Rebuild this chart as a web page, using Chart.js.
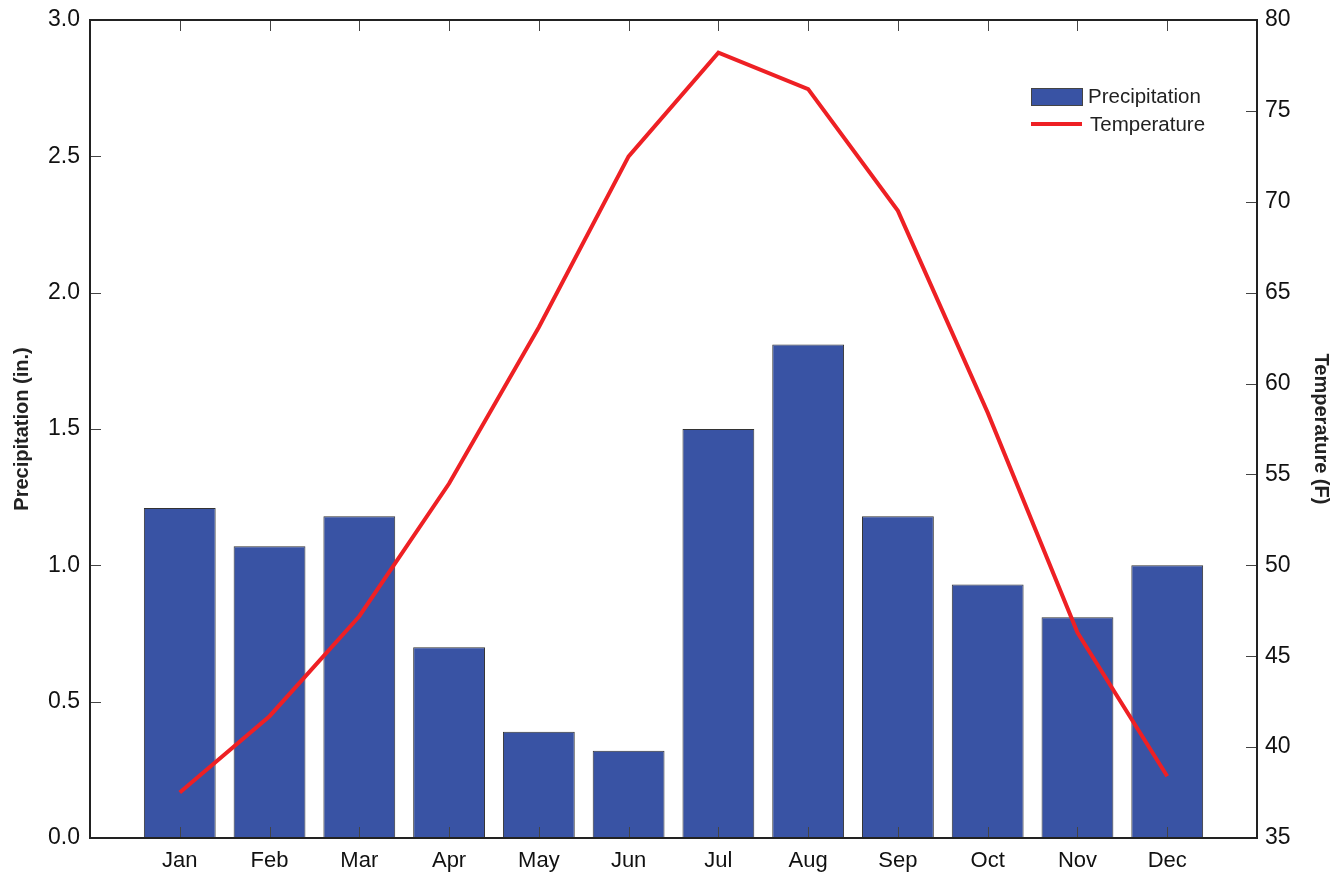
<!DOCTYPE html>
<html>
<head>
<meta charset="utf-8">
<script src="https://cdn.jsdelivr.net/npm/chart.js@4"></script>
<style>
  html, body { margin: 0; padding: 0; background: #fff; }
  #wrap { width: 1343px; height: 875px; }
</style>
</head>
<body>
<div id="wrap"><canvas id="climateChart" width="1343" height="875"></canvas></div>
<script>
const months = ['Jan', 'Feb', 'Mar', 'Apr', 'May', 'Jun', 'Jul', 'Aug', 'Sep', 'Oct', 'Nov', 'Dec'];
const precipitation = [1.21, 1.07, 1.18, 0.70, 0.39, 0.32, 1.50, 1.81, 1.18, 0.93, 0.81, 1.00];
const temperature = [37.5, 41.7, 47.2, 54.5, 63.1, 72.5, 78.2, 76.2, 69.5, 58.4, 46.3, 38.4];
const precipTicks = [0, 0.5, 1.0, 1.5, 2.0, 2.5, 3.0];
const tempTicks = [35, 40, 45, 50, 55, 60, 65, 70, 75, 80];

const fontFamily = '"Liberation Sans", Arial, Helvetica, sans-serif';
const barColor = '#3953a4';
const lineColor = '#ee2024';

// frame, inward tick marks and the legend box
const framePlugin = {
    id: 'frame',
    afterDraw(chart) {
        const ctx = chart.ctx;
        const a = chart.chartArea;
        const x = chart.scales.x, yl = chart.scales.y, yr = chart.scales.y2;
        const tl = 11;
        ctx.save();
        ctx.strokeStyle = '#444';
        ctx.lineWidth = 1;
        ctx.beginPath();
        months.forEach((m, i) => {
            const px = Math.round(x.getPixelForValue(i + 1)) + 0.5;
            ctx.moveTo(px, a.bottom); ctx.lineTo(px, a.bottom - tl);
            ctx.moveTo(px, a.top); ctx.lineTo(px, a.top + tl);
        });
        precipTicks.forEach(v => {
            const py = Math.round(yl.getPixelForValue(v)) + 0.5;
            ctx.moveTo(a.left, py); ctx.lineTo(a.left + tl, py);
        });
        tempTicks.forEach(v => {
            const py = Math.round(yr.getPixelForValue(v)) + 0.5;
            ctx.moveTo(a.right, py); ctx.lineTo(a.right - tl, py);
        });
        ctx.stroke();

        ctx.strokeStyle = '#222';
        ctx.lineWidth = 2;
        ctx.strokeRect(a.left, a.top, a.right - a.left, a.bottom - a.top);

        // legend
        const lx = a.right - 226, ly = a.top + 68;
        ctx.fillStyle = barColor;
        ctx.fillRect(lx, ly, 51, 17);
        ctx.strokeStyle = '#444';
        ctx.lineWidth = 1;
        ctx.strokeRect(lx + 0.5, ly + 0.5, 51, 17);
        ctx.strokeStyle = lineColor;
        ctx.lineWidth = 4;
        ctx.beginPath();
        ctx.moveTo(lx, ly + 36); ctx.lineTo(lx + 51, ly + 36);
        ctx.stroke();
        ctx.fillStyle = '#222';
        ctx.font = '20.5px ' + fontFamily;
        ctx.textBaseline = 'middle';
        ctx.fillText('Precipitation', lx + 57, ly + 9);
        ctx.fillText('Temperature', lx + 59, ly + 37);
        ctx.restore();
    }
};

const fitY = w => s => {
    s.width = w;
    s.paddingTop = 0;
    s.paddingBottom = 0;
};

const ctx = document.getElementById('climateChart').getContext('2d');
const chart = new Chart(ctx, {
    type: 'bar',
    data: {
        datasets: [{
            type: 'line',
            label: 'Temperature',
            data: temperature.map((t, i) => ({ x: i + 1, y: t })),
            yAxisID: 'y2',
            borderColor: lineColor,
            borderWidth: 4,
            pointRadius: 0,
            tension: 0,
            order: 0
        }, {
            type: 'bar',
            label: 'Precipitation',
            data: precipitation.map((p, i) => ({ x: i + 1, y: p })),
            yAxisID: 'y',
            backgroundColor: barColor,
            borderColor: '#333',
            borderWidth: 1,
            barPercentage: 0.8,
            categoryPercentage: 1.0,
            order: 1
        }]
    },
    options: {
        responsive: false,
        animation: false,
        devicePixelRatio: 1,
        layout: { padding: { top: 20, left: 0, right: 0, bottom: 0 } },
        plugins: {
            legend: { display: false },
            tooltip: { enabled: false }
        },
        scales: {
            x: {
                type: 'linear',
                min: 0,
                max: 13,
                offset: false,
                grid: { display: false, drawTicks: false },
                border: { display: false },
                ticks: {
                    stepSize: 1,
                    autoSkip: false,
                    maxRotation: 0,
                    padding: 10,
                    color: '#111',
                    font: { family: fontFamily, size: 22 },
                    callback: v => months[v - 1] || ''
                },
                afterFit: s => { s.height = 37; s.paddingLeft = 0; s.paddingRight = 0; }
            },
            y: {
                position: 'left',
                min: 0,
                max: 3,
                grid: { display: false, drawTicks: false },
                border: { display: false },
                ticks: {
                    stepSize: 0.5,
                    padding: 10,
                    color: '#111',
                    font: { family: fontFamily, size: 23 },
                    callback: v => v.toFixed(1)
                },
                title: {
                    display: true,
                    text: 'Precipitation (in.)',
                    color: '#222',
                    font: { family: fontFamily, size: 20, weight: 'bold' },
                    padding: { top: 10, bottom: 0 }
                },
                afterFit: fitY(90)
            },
            y2: {
                position: 'right',
                min: 35,
                max: 80,
                grid: { display: false, drawTicks: false },
                border: { display: false },
                ticks: {
                    stepSize: 5,
                    padding: 8,
                    color: '#111',
                    font: { family: fontFamily, size: 23 }
                },
                title: {
                    display: true,
                    text: 'Temperature (F)',
                    color: '#222',
                    font: { family: fontFamily, size: 20, weight: 'bold' },
                    padding: { top: 10, bottom: 0 }
                },
                afterFit: fitY(86)
            }
        }
    },
    plugins: [framePlugin]
});
</script>
</body>
</html>
